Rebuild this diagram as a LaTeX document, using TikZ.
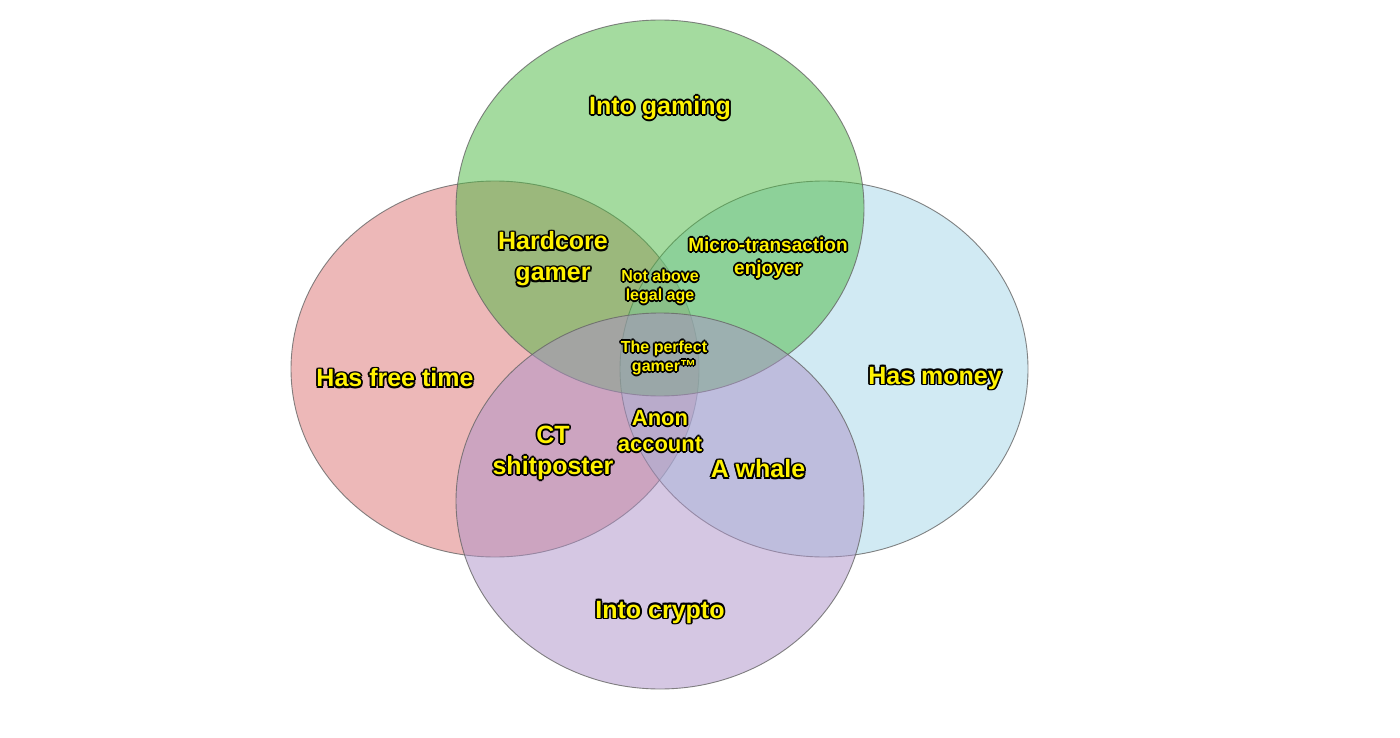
\documentclass[tikz,border=0pt]{standalone}
\usepackage{fontspec}
\setmainfont{Liberation Sans}
\usetikzlibrary{calc}
\definecolor{gamegreen}{RGB}{75,185,65}
\definecolor{timered}{RGB}{220,115,115}
\definecolor{moneyblue}{RGB}{165,215,232}
\definecolor{cryptopurple}{RGB}{172,145,200}
\tikzset{
  venn/.style={fill opacity=0.5, draw=black!60, draw opacity=0.8, line width=0.9pt},
  lbl/.style={align=center, inner sep=0pt, font=\bfseries},
}
% outlined yellow label: name, position, size, text
\newcommand{\venntext}[4]{%
  \foreach \a in {0,45,...,315}
    \node[lbl, text=black, font=\fontsize{#3}{#3}\bfseries] at ($(#2)+(\a:1.8pt)$) {#4};
  \node[lbl, text=yellow, font=\fontsize{#3}{#3}\bfseries] (#1) at (#2) {#4};
}
\begin{document}
\begin{tikzpicture}[x=1pt, y=-1pt]
  \useasboundingbox (0,0) rectangle (1400,738);
  \fill[white] (0,0) rectangle (1400,738);

  \path[venn, fill=timered]      (495,369) ellipse [x radius=204, y radius=188];
  \path[venn, fill=moneyblue]    (824,369) ellipse [x radius=204, y radius=188];
  \path[venn, fill=gamegreen]    (660,208) ellipse [x radius=204, y radius=188];
  \path[venn, fill=cryptopurple] (660,501) ellipse [x radius=204, y radius=188];

  \venntext{gaming}{660,108}{25}{Into gaming}
  \venntext{hardcore}{553,259}{25}{Hardcore\\[6pt]gamer}
  \venntext{micro}{768,258}{19}{Micro-transaction\\[4pt]enjoyer}
  \venntext{legal}{660,287}{16}{Not above\\[3pt]legal age}
  \venntext{perfect}{664,358}{16}{The perfect\\[3pt]gamer™}
  \venntext{freetime}{395,378}{25}{Has free time}
  \venntext{money}{935,378}{25}{Has money}
  \venntext{anon}{660,431}{22}{Anon\\[4pt]account}
  \venntext{ct}{553,453}{25}{CT\\[6pt]shitposter}
  \venntext{whale}{758,469}{25}{A whale}
  \venntext{crypto}{660,612}{25}{Into crypto}
\end{tikzpicture}
\end{document}
